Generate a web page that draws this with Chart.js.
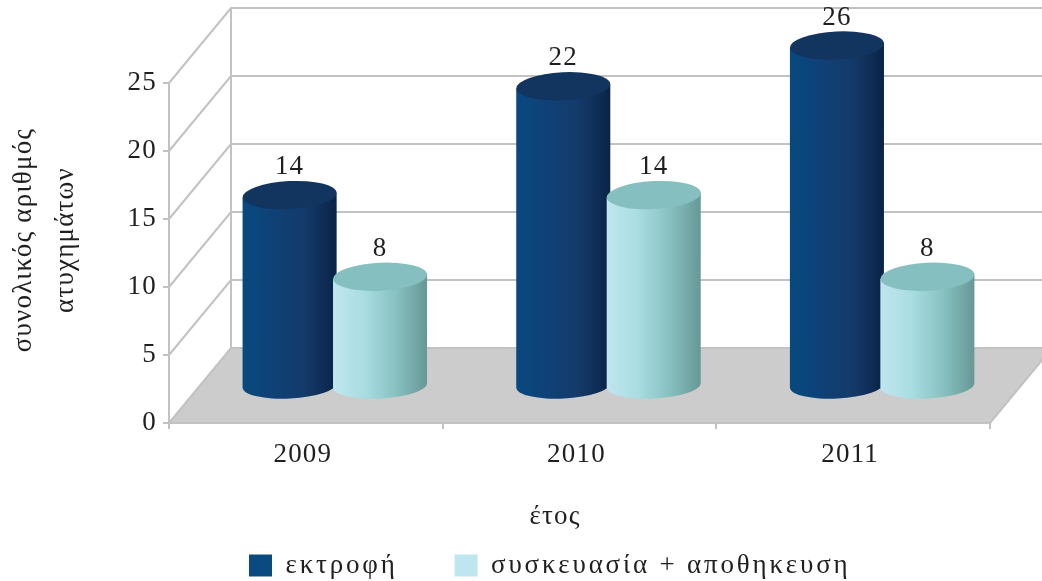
<!DOCTYPE html>
<html>
<head>
<meta charset="utf-8">
<script src="https://cdn.jsdelivr.net/npm/chart.js@4/dist/chart.umd.min.js"></script>
<style>
html, body { margin: 0; padding: 0; background: #fff; overflow: hidden; }
canvas { display: block; }
</style>
</head>
<body>
<canvas id="accidentChart" width="1042" height="581"></canvas>
<script>
const years = ['2009', '2010', '2011'];
const breeding = [14, 22, 26];
const packaging = [8, 14, 8];
const seriesNames = ['εκτροφή', 'συσκευασία + αποθηκευση'];
const yTitleLines = ['συνολικός αριθμός', 'ατυχημάτων'];
const xTitle = 'έτος';

const FONT = '"Liberation Serif", serif';
const TEXT = '#1f1f1f';
const GRID = '#c2c2c2';
// how far the back wall sits from the front axes
const DEPTH_X = 62;
const DEPTH_Y = -75;
const SIZE = 27;
const TILT = -0.05;
const LEGEND_GAP = 57;

// side shading of the cylinders, left to right
const shades = [
    { stops: ['#07497f', '#0f4177', '#143a6a', '#0a2347'], cap: '#12355f' },
    { stops: ['#c0e5ef', '#a9dde1', '#88c1c2', '#669894'], cap: '#85bfbf' }
];

function cylinder(ctx, x, top, bottom, width, shade) {
    const rx = width / 2;
    const ry = 13;
    const lift = rx * Math.sin(TILT);
    const g = ctx.createLinearGradient(x - rx, 0, x + rx, 0);
    shade.stops.forEach((c, i) => g.addColorStop(i / (shade.stops.length - 1), c));
    ctx.fillStyle = g;
    ctx.beginPath();
    ctx.moveTo(x - rx, top - lift);
    ctx.lineTo(x - rx, bottom - lift);
    ctx.ellipse(x, bottom, rx, ry, TILT, Math.PI, 0, true);
    ctx.lineTo(x + rx, top + lift);
    ctx.closePath();
    ctx.fill();
    ctx.fillStyle = shade.cap;
    ctx.beginPath();
    ctx.ellipse(x, top, rx, ry + 1, TILT, 0, Math.PI * 2);
    ctx.fill();
}

const box3d = {
    id: 'box3d',
    beforeUpdate(chart) {
        chart.ctx.letterSpacing = '1.2px';
    },
    afterLayout(chart) {
        // legend sits on its own row, below the axis title
        const legend = chart.legend;
        legend.left = 249 - LEGEND_GAP;
        legend.right = 1042;
        legend.top = 552 - LEGEND_GAP;
        // its text is spaced wider than the rest
        if (!legend.wideText) {
            const draw = legend.draw;
            legend.wideText = true;
            legend.draw = function () {
                chart.ctx.letterSpacing = '2.8px';
                draw.call(this);
                chart.ctx.letterSpacing = '1.2px';
            };
        }
    },
    beforeDraw(chart) {
        const { ctx, chartArea: a, scales: { y } } = chart;
        const y0 = y.getPixelForValue(0);
        ctx.save();
        ctx.fillStyle = '#cccccc';
        ctx.beginPath();
        ctx.moveTo(a.left, y0);
        ctx.lineTo(a.left + DEPTH_X, y0 + DEPTH_Y);
        ctx.lineTo(a.right + DEPTH_X, y0 + DEPTH_Y);
        ctx.lineTo(a.right, y0);
        ctx.closePath();
        ctx.fill();

        ctx.strokeStyle = GRID;
        ctx.lineWidth = 2;
        y.ticks.forEach(t => {
            const p = y.getPixelForValue(t.value);
            ctx.beginPath();
            ctx.moveTo(a.left, p);
            ctx.lineTo(a.left + DEPTH_X, p + DEPTH_Y);
            ctx.lineTo(a.right + DEPTH_X, p + DEPTH_Y);
            ctx.stroke();
        });
        ctx.beginPath();
        ctx.moveTo(a.left + DEPTH_X, y0 + DEPTH_Y);
        ctx.lineTo(a.left + DEPTH_X, a.top + DEPTH_Y);
        ctx.stroke();
        ctx.beginPath();
        ctx.moveTo(a.right, y0);
        ctx.lineTo(a.right + DEPTH_X, y0 + DEPTH_Y);
        ctx.stroke();

        // axis titles
        ctx.fillStyle = TEXT;
        ctx.font = SIZE + 'px ' + FONT;
        ctx.textAlign = 'center';
        ctx.textBaseline = 'middle';
        ctx.fillText(xTitle, 555, 517);
        ctx.translate(24, 240);
        ctx.rotate(-Math.PI / 2);
        yTitleLines.forEach((line, i) => ctx.fillText(line, 0, i * 42));
        ctx.restore();
    },
    beforeDatasetsDraw(chart) {
        const { ctx, chartArea: a, scales: { y } } = chart;
        const base = y.getPixelForValue(0) + DEPTH_Y / 2;
        ctx.save();
        chart.data.datasets.forEach((ds, i) => {
            chart.getDatasetMeta(i).data.forEach((bar, j) => {
                const x = bar.x + DEPTH_X / 2 - 2;
                // columns stop at the top of the value axis, the label keeps the real number
                const top = Math.max(bar.y, a.top) + DEPTH_Y / 2;
                cylinder(ctx, x, top, base, bar.width, shades[i]);
                ctx.fillStyle = TEXT;
                ctx.font = SIZE + 'px ' + FONT;
                ctx.textAlign = 'center';
                ctx.textBaseline = 'middle';
                ctx.fillText(ds.data[j], x, top - 28);
            });
        });
        ctx.restore();
        return false;
    }
};

new Chart(document.getElementById('accidentChart'), {
    type: 'bar',
    data: {
        labels: years,
        datasets: [
            { label: seriesNames[0], data: breeding, backgroundColor: '#0a4a80', borderWidth: 0 },
            { label: seriesNames[1], data: packaging, backgroundColor: '#bfe5ef', borderWidth: 0 }
        ]
    },
    plugins: [box3d],
    options: {
        responsive: false,
        animation: false,
        layout: { padding: { top: 83, right: 52 } },
        categoryPercentage: 0.661,
        barPercentage: 1.04,
        plugins: {
            tooltip: { enabled: false },
            title: { display: false },
            legend: {
                position: 'bottom',
                align: 'start',
                maxHeight: 30,
                labels: {
                    boxWidth: 23,
                    boxHeight: 22,
                    padding: LEGEND_GAP,
                    color: TEXT,
                    font: { family: FONT, size: SIZE }
                }
            }
        },
        scales: {
            x: {
                grid: { drawOnChartArea: false, color: GRID, tickLength: 6, lineWidth: 2 },
                border: { color: GRID, width: 2 },
                ticks: { color: TEXT, font: { family: FONT, size: SIZE }, padding: 10, maxRotation: 0, labelOffset: -3 },
                afterFit(scale) { scale.height = 581 - 30 - 423; }
            },
            y: {
                min: 0,
                max: 25,
                grid: { drawOnChartArea: false, color: GRID, tickLength: 6, lineWidth: 2 },
                border: { color: GRID, width: 2 },
                ticks: { stepSize: 5, color: TEXT, font: { family: FONT, size: SIZE }, padding: 6 },
                afterFit(scale) { scale.width = 169; }
            }
        }
    }
});
</script>
</body>
</html>
